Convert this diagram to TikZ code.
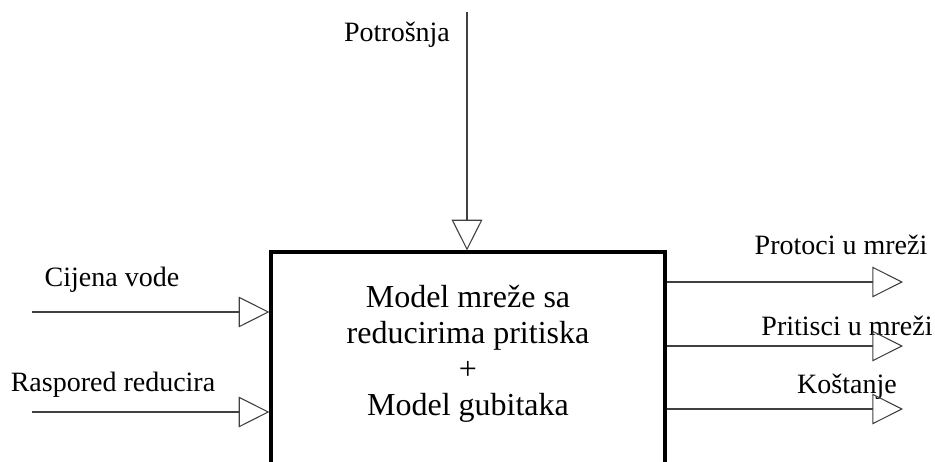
\documentclass[tikz,border=0pt]{standalone}
\usepackage{fontspec}
\setmainfont{Liberation Serif}
\usepackage{tikz}
\usetikzlibrary{arrows.meta, positioning}

\begin{document}
\begin{tikzpicture}[x=0.75pt, y=-0.75pt,
        flow/.style={draw=black!75, line width=0.8pt, -{Triangle[open, length=23pt, width=23pt, line width=0.8pt]}},
        mainbox/.style={draw=black, line width=2.4pt, minimum width=295.5pt, minimum height=231pt, inner sep=0pt},
        lbl/.style={font=\fontsize{21}{25}\selectfont, inner sep=0pt}]
        \useasboundingbox (0,0) rectangle (935,461);
        \clip (0,0) rectangle (935,461);
        \node[mainbox] (model) at (468,406) {};
        \node[font=\fontsize{24}{27}\selectfont, align=center, inner sep=0pt] (modeltext) at (468,354)
            {Model mreže sa\\reducirima pritiska\\+\\Model gubitaka};
        \coordinate (p-in) at (467,12);
        \coordinate (c-in) at (32,312);
        \coordinate (r-in) at (32,412);
        \coordinate (q-out) at (903,282);
        \coordinate (h-out) at (903,346);
        \coordinate (k-out) at (903,409);
        \node[lbl] (p-lbl) at (397,35) {Potrošnja};
        \node[lbl] (c-lbl) at (112,280) {Cijena vode};
        \node[lbl] (r-lbl) at (113,385) {Raspored reducira};
        \node[lbl] (q-lbl) at (841,245) {Protoci u mreži};
        \node[lbl] (h-lbl) at (847,326) {Pritisci u mreži};
        \node[lbl] (k-lbl) at (847,387) {Koštanje};
        \draw[flow] (p-in) -- (p-in |- model.north);
        \draw[flow] (c-in) -- (c-in -| model.west);
        \draw[flow] (r-in) -- (r-in -| model.west);
        \draw[flow] (q-out -| model.east) -- (q-out);
        \draw[flow] (h-out -| model.east) -- (h-out);
        \draw[flow] (k-out -| model.east) -- (k-out);
    \end{tikzpicture}
\end{document}
